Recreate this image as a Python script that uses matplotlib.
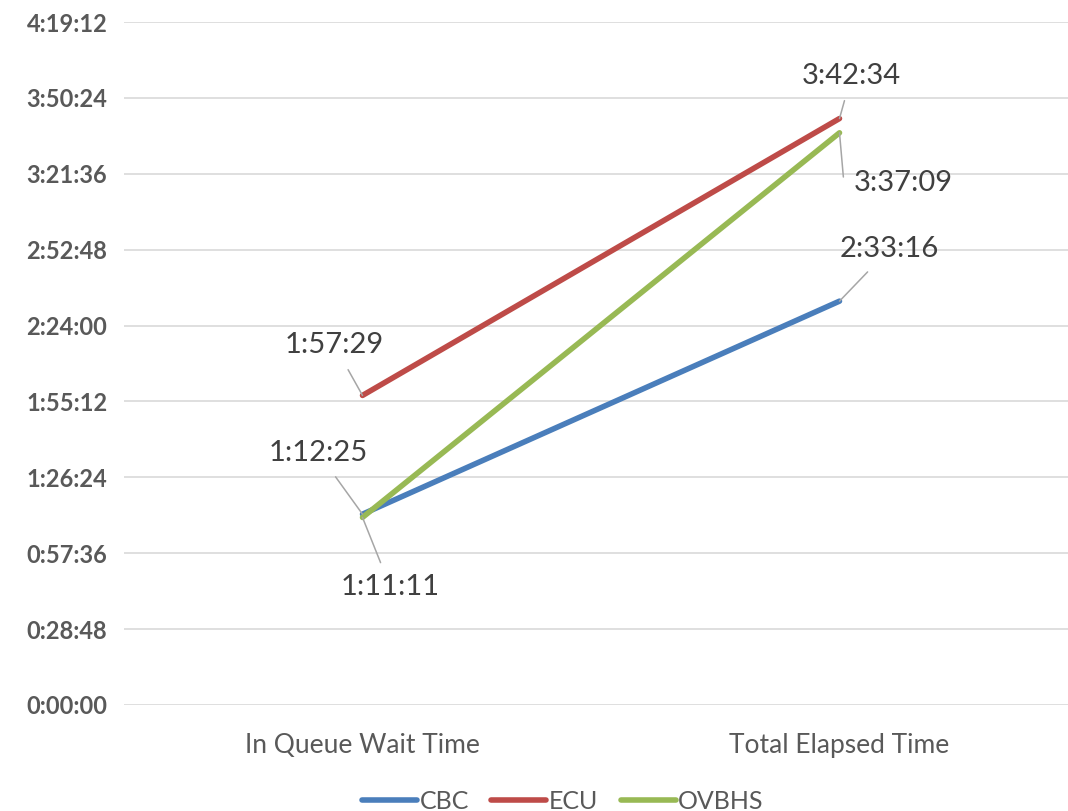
import matplotlib.pyplot as plt
from matplotlib.ticker import FuncFormatter, MultipleLocator

categories = ['In Queue Wait Time', 'Total Elapsed Time']
series = ['CBC', 'ECU', 'OVBHS']
# values as H:MM:SS strings
cbc = ['1:12:25', '2:33:16']
ecu = ['1:57:29', '3:42:34']
ovbhs = ['1:11:11', '3:37:09']
colors = ['#4A7EBB', '#BE4B48', '#98B954']

# label offsets in pixels (dx, dy) per series per point
offsets = {
    'CBC': [(-44, 61), (50, 52)],
    'ECU': [(-28, 50), (12, 43)],
    'OVBHS': [(28, -70), (64, -50)],
}


def to_sec(s):
    h, m, sec = s.split(':')
    return int(h) * 3600 + int(m) * 60 + int(sec)


def fmt(v, pos=None):
    v = int(round(v))
    return f"{v // 3600}:{(v % 3600) // 60:02d}:{v % 60:02d}"


plt.rcParams['font.family'] = ['Lato', 'DejaVu Sans']

fig = plt.figure(figsize=(10.68, 8.11), dpi=100)
ax = fig.add_axes([124 / 1068, 1 - 705 / 811, (1078 - 124) / 1068, (705 - 22) / 811])

x = list(range(len(categories)))
for name, vals, c in zip(series, [cbc, ecu, ovbhs], colors):
    secs = [to_sec(v) for v in vals]
    ax.plot(x, secs, color=c, lw=4, solid_capstyle='round', label=name, zorder=3)
    for xi, s, lab, off in zip(x, secs, vals, offsets[name]):
        if name == 'OVBHS' and xi == 1:
            cs = 'angle,angleA=0,angleB=95,rad=0'
        else:
            cs = 'arc3'
        ax.annotate(lab, (xi, s), xytext=off, textcoords='offset pixels',
                    ha='center', va='center', fontsize=21, color='#404040',
                    arrowprops=dict(arrowstyle='-', color='#A6A6A6', lw=1.1,
                                    shrinkA=7, shrinkB=0, connectionstyle=cs),
                    zorder=4)

ax.set_xlim(-0.5, 1.5)
ax.set_ylim(0, 15552)
ax.yaxis.set_major_locator(MultipleLocator(1728))
ax.yaxis.set_major_formatter(FuncFormatter(fmt))
ax.set_xticks(x)
ax.set_xticklabels(categories)
ax.grid(axis='y', color='#D9D9D9', lw=1.2)
ax.set_axisbelow(True)
for sp in ax.spines.values():
    sp.set_visible(False)
ax.tick_params(axis='y', length=0, pad=12, labelsize=17, labelcolor='#595959')
ax.tick_params(axis='x', length=0, pad=20, labelsize=19, labelcolor='#595959')
for t in ax.get_yticklabels():
    t.set_fontweight('bold')

fig.legend(loc='lower center', bbox_to_anchor=(0.527, -0.03), ncol=3, frameon=False,
           fontsize=18, handlelength=2.2, handletextpad=0.1, columnspacing=0.9,
           labelcolor='#595959')

fig.savefig('out.png', dpi=100)
